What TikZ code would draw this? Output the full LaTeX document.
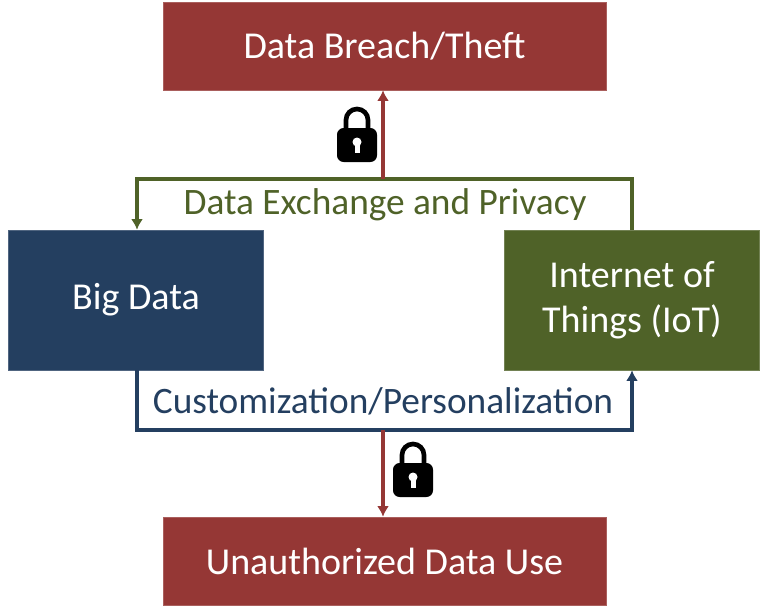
\documentclass[tikz,border=0pt]{standalone}
\usepackage{fontspec}
\setmainfont{Carlito}
\usetikzlibrary{positioning,arrows.meta}
\definecolor{breachred}{HTML}{953735}
\definecolor{bignavy}{HTML}{243F60}
\definecolor{iotgreen}{HTML}{4F6228}

\begin{document}
\begin{tikzpicture}[
    x=0.75pt, y=-0.75pt,
    redbox/.style={rectangle, fill=breachred, draw=breachred!80!white, text=white, minimum width=443*0.75pt, minimum height=88*0.75pt, font=\fontsize{28.5}{33}\selectfont},
    sidebox/.style={rectangle, text=white, minimum width=255*0.75pt, minimum height=140*0.75pt, align=center, font=\fontsize{28.5}{34}\selectfont},
    link/.style={line width=2.4pt, -{Latex[length=8pt,width=9pt]}},
    lbl/.style={font=\fontsize{28}{32}\selectfont}
]
\useasboundingbox (0,0) rectangle (768,607);

% Boxes
\node[redbox] (breach) at (384.5,46) {Data Breach/Theft};
\node[redbox] (misuse) at (384.5,561) {Unauthorized Data Use};
\node[sidebox, fill=bignavy, draw=bignavy!80!white] (bigdata) at (136,300) {Big Data};
\node[sidebox, fill=iotgreen, draw=iotgreen!80!white] (iot) at (632,300) {Internet of\\Things (IoT)};

% Corners of the loops
\coordinate (gR) at (632,179);
\coordinate (gL) at (137,179);
\coordinate (bL) at (137,430);
\coordinate (bR) at (632,430);
\coordinate (gM) at (383,179);
\coordinate (bM) at (383,430);

% Green loop: IoT to Big Data
\draw[link, draw=iotgreen] (iot.north) -- (gR) -- (gL) -- (bigdata.north -| gL);
\node[lbl, text=iotgreen] (exch) at (385,205) {Data Exchange and Privacy};

% Blue loop: Big Data to IoT
\draw[link, draw=bignavy] (bigdata.south -| bL) -- (bL) -- (bR) -- (iot.south);
\node[lbl, text=bignavy] (custom) at (383,401) {Customization/Personalization};

% Red arrows
\draw[link, draw=breachred] (gM) -- (breach.south -| gM);
\draw[link, draw=breachred] (bM) -- (misuse.north -| bM);

% Locks
\foreach \lx/\ly/\nm in {357/140/lockA, 413/475/lockB}{
  \draw[black, line width=3.5pt] (\lx-11,\ly-10) -- (\lx-11,\ly-20) arc[start angle=180, end angle=0, x radius=11, y radius=-11] -- (\lx+11,\ly-10);
  \fill[black, rounded corners=5pt] (\lx-20,\ly-12) rectangle (\lx+20,\ly+22);
  \fill[white] (\lx,\ly+2) circle[radius=4.5];
  \fill[white] (\lx-2.5,\ly+2) rectangle (\lx+2.5,\ly+13);
  \node[inner sep=0pt] (\nm) at (\lx,\ly) {};
}
\end{tikzpicture}
\end{document}
